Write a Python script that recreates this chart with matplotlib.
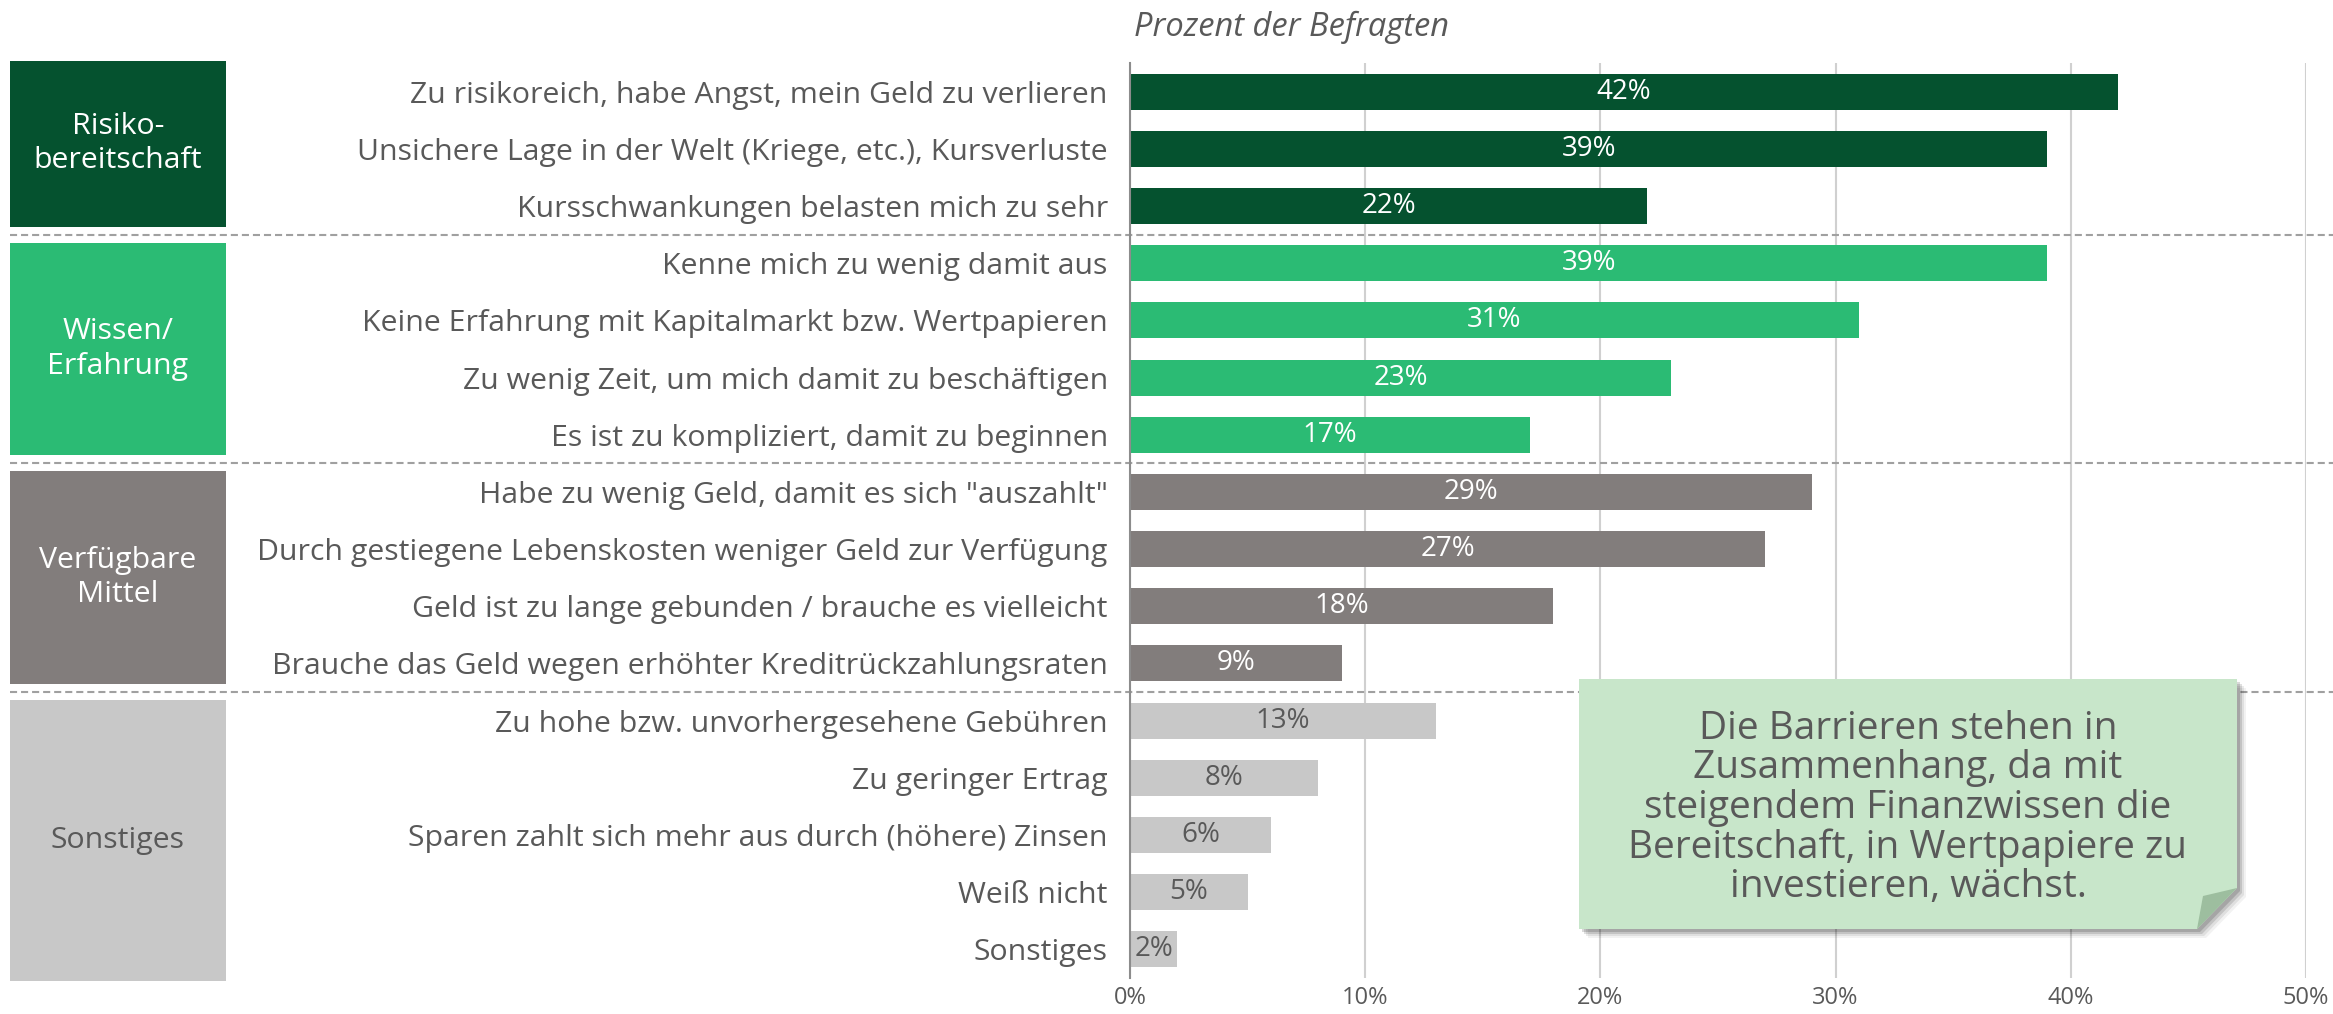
import matplotlib
matplotlib.use("Agg")
import matplotlib.pyplot as plt
from matplotlib.patches import Rectangle, Polygon
from matplotlib.transforms import blended_transform_factory

plt.rcParams['font.family'] = ['Open Sans', 'DejaVu Sans']

# data
labels = [
    "Zu risikoreich, habe Angst, mein Geld zu verlieren",
    "Unsichere Lage in der Welt (Kriege, etc.), Kursverluste",
    "Kursschwankungen belasten mich zu sehr",
    "Kenne mich zu wenig damit aus",
    "Keine Erfahrung mit Kapitalmarkt bzw. Wertpapieren",
    "Zu wenig Zeit, um mich damit zu beschäftigen",
    "Es ist zu kompliziert, damit zu beginnen",
    "Habe zu wenig Geld, damit es sich \"auszahlt\"",
    "Durch gestiegene Lebenskosten weniger Geld zur Verfügung",
    "Geld ist zu lange gebunden / brauche es vielleicht",
    "Brauche das Geld wegen erhöhter Kreditrückzahlungsraten",
    "Zu hohe bzw. unvorhergesehene Gebühren",
    "Zu geringer Ertrag",
    "Sparen zahlt sich mehr aus durch (höhere) Zinsen",
    "Weiß nicht",
    "Sonstiges",
]
values = [42, 39, 22, 39, 31, 23, 17, 29, 27, 18, 9, 13, 8, 6, 5, 2]

group_names = ["Risiko-\nbereitschaft", "Wissen/\nErfahrung", "Verfügbare\nMittel", "Sonstiges"]
group_sizes = [3, 4, 4, 5]
group_colors = ["#05522F", "#2BBB74", "#827D7C", "#C8C8C8"]
group_text_colors = ["white", "white", "white", "#595959"]

x_ticks = [0, 10, 20, 30, 40, 50]
note_text = ("Die Barrieren stehen in\nZusammenhang, da mit\nsteigendem Finanzwissen die\n"
             "Bereitschaft, in Wertpapiere zu\ninvestieren, wächst.")

W, H = 2333, 1014
fig = plt.figure(figsize=(W / 100, H / 100), dpi=100)
ax = fig.add_axes([1130 / W, 1 - 978 / H, 1176 / W, 915 / H])

# colour per bar from its group
bar_colors, text_colors = [], []
for size, c, tc in zip(group_sizes, group_colors, group_text_colors):
    bar_colors += [c] * size
    text_colors += [tc] * size

ypos = list(range(len(values)))
ax.barh(ypos, values, height=0.63, color=bar_colors, zorder=2)
for y, v, tc in zip(ypos, values, text_colors):
    ax.text(v / 2, y, f"{v}%", ha="center", va="center", color=tc,
            fontsize=20, zorder=3)

ax.set_xlim(0, 50)
ax.set_ylim(len(values) - 0.5, -0.5)
ax.set_xticks(x_ticks)
ax.set_xticklabels([f"{t}%" for t in x_ticks])
ax.set_yticks(ypos)
ax.set_yticklabels(labels)
ax.tick_params(axis="y", length=0, pad=16, labelsize=21.8, labelcolor="#595959")
ax.tick_params(axis="x", length=0, pad=6, labelsize=17, labelcolor="#595959")
ax.grid(axis="x", color="#D0D0D0", linewidth=1.5, zorder=0)
ax.set_axisbelow(True)
for s in ["top", "right", "bottom"]:
    ax.spines[s].set_visible(False)
ax.spines["left"].set_color("#8C8C8C")
ax.spines["left"].set_linewidth(1.5)
ax.spines["left"].set_zorder(4)

# group boxes and dashed separators
trans = blended_transform_factory(fig.transFigure, ax.transData)
start = 0
for gi, (name, size, c, tc) in enumerate(zip(group_names, group_sizes, group_colors, group_text_colors)):
    top = start - 0.5 + (0.14 if gi > 0 else -0.04)
    bottom = start + size - 0.5 - (0.14 if gi < len(group_sizes) - 1 else -0.05)
    ax.add_patch(Rectangle((10 / W, top), 216 / W, bottom - top, transform=trans,
                           facecolor=c, edgecolor="none", clip_on=False, zorder=1))
    ax.text(118 / W, (top + bottom) / 2, name, transform=trans, ha="center", va="center",
            color=tc, fontsize=21.8, linespacing=1.25, clip_on=False)
    if gi < len(group_sizes) - 1:
        sep = start + size - 0.5
        ax.plot([10 / W, 1.0], [sep, sep], transform=trans, color="#A0A0A0",
                linewidth=1.5, linestyle=(0, (3.4, 1.9)), clip_on=False, zorder=1)
    start += size

fig.text(1134 / W, 1 - 27 / H, "Prozent der Befragten", ha="left", va="center",
         fontsize=23.5, style="italic", color="#595959")

# sticky note with folded corner and soft shadow
def px(x, y):
    return (x / W, 1 - y / H)

note = [px(1579, 679), px(2237, 679), px(2237, 888), px(2197, 929), px(1579, 929)]
for off, a in [(9, 0.05), (7, 0.08), (5, 0.12), (3, 0.15)]:
    shadow = [(x + off / W, y - off / H) for x, y in note]
    fig.patches.append(Polygon(shadow, closed=True, transform=fig.transFigure,
                               facecolor="black", edgecolor="none", alpha=a, zorder=5))
fig.patches.append(Polygon(note, closed=True, transform=fig.transFigure,
                           facecolor="#C8E6CA", edgecolor="none", zorder=6))
fig.patches.append(Polygon([px(2237, 888), px(2197, 929), px(2203, 896)], closed=True,
                           transform=fig.transFigure, facecolor="#9DBE9F",
                           edgecolor="none", zorder=7))
fig.text(1908 / W, 1 - 808 / H, note_text, ha="center", va="center", fontsize=28,
         color="#595959", linespacing=1.05, zorder=8)

fig.savefig("out.png", dpi=100)
